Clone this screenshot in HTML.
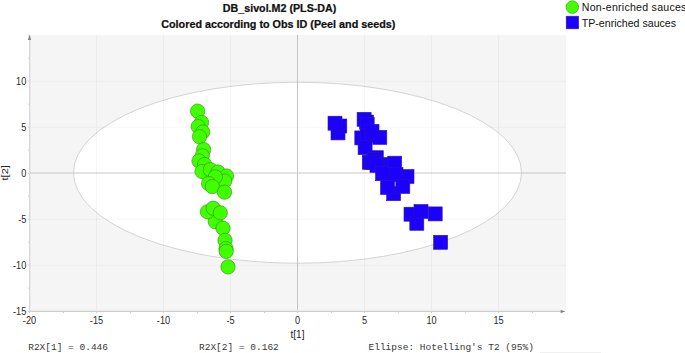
<!DOCTYPE html>
<html><head><meta charset="utf-8"><style>
html,body{margin:0;padding:0;background:#fff;width:685px;height:353px;overflow:hidden}
svg{display:block}
.t{font-family:"Liberation Sans",sans-serif;fill:#222}
.m{font-family:"Liberation Mono",monospace;fill:#383838}
</style></head><body>
<svg width="685" height="353" viewBox="0 0 685 353">
<rect x="0" y="0" width="685" height="353" fill="#fff"/>
<rect x="30" y="35" width="536" height="276" fill="#f5f5f5"/>
<ellipse cx="297.5" cy="172.75" rx="224" ry="90.5" fill="#fff" stroke="#d4d4d4" stroke-width="1"/>

<rect x="96.0" y="35" width="1" height="276" fill="#000" fill-opacity="0.035"/>
<rect x="163.0" y="35" width="1" height="276" fill="#000" fill-opacity="0.035"/>
<rect x="230.0" y="35" width="1" height="276" fill="#000" fill-opacity="0.035"/>
<rect x="364.0" y="35" width="1" height="276" fill="#000" fill-opacity="0.035"/>
<rect x="431.0" y="35" width="1" height="276" fill="#000" fill-opacity="0.035"/>
<rect x="498.0" y="35" width="1" height="276" fill="#000" fill-opacity="0.035"/>
<rect x="30" y="80.7" width="536" height="1" fill="#000" fill-opacity="0.035"/>
<rect x="30" y="126.7" width="536" height="1" fill="#000" fill-opacity="0.035"/>
<rect x="30" y="218.7" width="536" height="1" fill="#000" fill-opacity="0.035"/>
<rect x="30" y="264.7" width="536" height="1" fill="#000" fill-opacity="0.035"/>
<rect x="30" y="35" width="1" height="276" fill="#ebebeb"/>
<rect x="297" y="35" width="1" height="276" fill="#c4c4c4"/>
<rect x="30" y="172.5" width="536" height="1" fill="#c8c8c8"/>
<rect x="30" y="310" width="532" height="1" fill="#ebebeb"/>
<rect x="29" y="38" width="1" height="274" fill="#d8d8d8"/>
<rect x="29" y="311" width="533" height="1" fill="#cdcdcd"/>
<path d="M29.5 34.6 L27.9 40 L31.1 40 Z" fill="#808080"/>
<path d="M565.6 311.5 L560.6 309.9 L560.6 313.1 Z" fill="#808080"/>
<rect x="29" y="312" width="1" height="1" fill="#cfcfcf"/>
<rect x="63" y="312" width="1" height="1" fill="#cfcfcf"/>
<rect x="96" y="312" width="1" height="1" fill="#cfcfcf"/>
<rect x="130" y="312" width="1" height="1" fill="#cfcfcf"/>
<rect x="163" y="312" width="1" height="1" fill="#cfcfcf"/>
<rect x="197" y="312" width="1" height="1" fill="#cfcfcf"/>
<rect x="230" y="312" width="1" height="1" fill="#cfcfcf"/>
<rect x="264" y="312" width="1" height="1" fill="#cfcfcf"/>
<rect x="297" y="312" width="1" height="1" fill="#cfcfcf"/>
<rect x="331" y="312" width="1" height="1" fill="#cfcfcf"/>
<rect x="364" y="312" width="1" height="1" fill="#cfcfcf"/>
<rect x="398" y="312" width="1" height="1" fill="#cfcfcf"/>
<rect x="431" y="312" width="1" height="1" fill="#cfcfcf"/>
<rect x="465" y="312" width="1" height="1" fill="#cfcfcf"/>
<rect x="498" y="312" width="1" height="1" fill="#cfcfcf"/>
<rect x="532" y="312" width="1" height="1" fill="#cfcfcf"/>
<rect x="28" y="310.7" width="1" height="1" fill="#cfcfcf"/>
<rect x="28" y="287.7" width="1" height="1" fill="#cfcfcf"/>
<rect x="28" y="264.7" width="1" height="1" fill="#cfcfcf"/>
<rect x="28" y="241.7" width="1" height="1" fill="#cfcfcf"/>
<rect x="28" y="218.7" width="1" height="1" fill="#cfcfcf"/>
<rect x="28" y="195.7" width="1" height="1" fill="#cfcfcf"/>
<rect x="28" y="172.7" width="1" height="1" fill="#cfcfcf"/>
<rect x="28" y="149.7" width="1" height="1" fill="#cfcfcf"/>
<rect x="28" y="126.7" width="1" height="1" fill="#cfcfcf"/>
<rect x="28" y="103.7" width="1" height="1" fill="#cfcfcf"/>
<rect x="28" y="80.7" width="1" height="1" fill="#cfcfcf"/>
<rect x="28" y="57.7" width="1" height="1" fill="#cfcfcf"/>
<rect x="28" y="34.7" width="1" height="1" fill="#cfcfcf"/>
<text class="t" transform="translate(29.5 323.5) scale(0.92 1)" font-size="10" text-anchor="middle" style="fill:#2a2a2a">-20</text>
<text class="t" transform="translate(96.5 323.5) scale(0.92 1)" font-size="10" text-anchor="middle" style="fill:#2a2a2a">-15</text>
<text class="t" transform="translate(163.5 323.5) scale(0.92 1)" font-size="10" text-anchor="middle" style="fill:#2a2a2a">-10</text>
<text class="t" transform="translate(230.5 323.5) scale(0.92 1)" font-size="10" text-anchor="middle" style="fill:#2a2a2a">-5</text>
<text class="t" transform="translate(297.5 323.5) scale(0.92 1)" font-size="10" text-anchor="middle" style="fill:#2a2a2a">0</text>
<text class="t" transform="translate(364.5 323.5) scale(0.92 1)" font-size="10" text-anchor="middle" style="fill:#2a2a2a">5</text>
<text class="t" transform="translate(431.5 323.5) scale(0.92 1)" font-size="10" text-anchor="middle" style="fill:#2a2a2a">10</text>
<text class="t" transform="translate(498.5 323.5) scale(0.92 1)" font-size="10" text-anchor="middle" style="fill:#2a2a2a">15</text>
<text class="t" transform="translate(26.3 84.8) scale(0.92 1)" font-size="10" text-anchor="end" style="fill:#2a2a2a">10</text>
<text class="t" transform="translate(26.3 130.8) scale(0.92 1)" font-size="10" text-anchor="end" style="fill:#2a2a2a">5</text>
<text class="t" transform="translate(26.3 176.8) scale(0.92 1)" font-size="10" text-anchor="end" style="fill:#2a2a2a">0</text>
<text class="t" transform="translate(26.3 222.8) scale(0.92 1)" font-size="10" text-anchor="end" style="fill:#2a2a2a">-5</text>
<text class="t" transform="translate(26.3 268.8) scale(0.92 1)" font-size="10" text-anchor="end" style="fill:#2a2a2a">-10</text>
<text class="t" transform="translate(26.3 314.8) scale(0.92 1)" font-size="10" text-anchor="end" style="fill:#2a2a2a">-15</text>
<text class="t" x="297.5" y="338" font-size="10" text-anchor="middle">t[1]</text>
<text class="t" transform="translate(7.7 172.8) rotate(-90) scale(1.1 0.9)" x="0" y="0" font-size="10" text-anchor="middle">t[2]</text>
<text class="t" transform="translate(279.6 11.9) scale(0.947 1)" font-size="11.3" font-weight="bold" text-anchor="middle" style="fill:#111;stroke:#111;stroke-width:0.25">DB_sivol.M2 (PLS-DA)</text>
<text class="t" transform="translate(278.3 28.3) scale(0.955 1)" font-size="11.3" font-weight="bold" text-anchor="middle" style="fill:#111;stroke:#111;stroke-width:0.25">Colored according to Obs ID (Peel and seeds)</text>
<text class="m" x="28.2" y="349.8" font-size="9.5">R2X[1] = 0.446</text>
<text class="m" x="199" y="349.8" font-size="9.5">R2X[2] = 0.162</text>
<text class="m" x="368.5" y="349.8" font-size="9.5">Ellipse: Hotelling's T2 (95%)</text>
<rect x="540" y="352" width="61" height="1" fill="#f0f0f0"/>
<circle cx="572.3" cy="7.1" r="6.3" fill="#42ff00" stroke="#2f8c14" stroke-width="0.6"/>
<rect x="566.2" y="16.2" width="12.4" height="12.6" fill="#1c00ff" stroke="#2a1aa0" stroke-width="0.6"/>
<text class="t" x="581.8" y="10.5" font-size="10.6" letter-spacing="0.25" style="fill:#111">Non-enriched sauces</text>
<text class="t" x="581.8" y="26.5" font-size="10.6" style="fill:#111">TP-enriched sauces</text>
<circle cx="197.6" cy="111.1" r="7.15" fill="#42ff00" stroke="#2f8c14" stroke-width="0.6"/>
<circle cx="201.6" cy="122.5" r="7.15" fill="#42ff00" stroke="#2f8c14" stroke-width="0.6"/>
<circle cx="198.2" cy="126.6" r="7.15" fill="#42ff00" stroke="#2f8c14" stroke-width="0.6"/>
<circle cx="202.7" cy="132" r="7.15" fill="#42ff00" stroke="#2f8c14" stroke-width="0.6"/>
<circle cx="199.5" cy="136.7" r="7.15" fill="#42ff00" stroke="#2f8c14" stroke-width="0.6"/>
<circle cx="203.6" cy="149.6" r="7.15" fill="#42ff00" stroke="#2f8c14" stroke-width="0.6"/>
<circle cx="202.3" cy="155.8" r="7.15" fill="#42ff00" stroke="#2f8c14" stroke-width="0.6"/>
<circle cx="199" cy="161" r="7.15" fill="#42ff00" stroke="#2f8c14" stroke-width="0.6"/>
<circle cx="204.6" cy="164.5" r="7.15" fill="#42ff00" stroke="#2f8c14" stroke-width="0.6"/>
<circle cx="202" cy="171.5" r="7.15" fill="#42ff00" stroke="#2f8c14" stroke-width="0.6"/>
<circle cx="210.3" cy="169.7" r="7.15" fill="#42ff00" stroke="#2f8c14" stroke-width="0.6"/>
<circle cx="218" cy="172" r="7.15" fill="#42ff00" stroke="#2f8c14" stroke-width="0.6"/>
<circle cx="226.5" cy="176" r="7.15" fill="#42ff00" stroke="#2f8c14" stroke-width="0.6"/>
<circle cx="224.7" cy="181" r="7.15" fill="#42ff00" stroke="#2f8c14" stroke-width="0.6"/>
<circle cx="215.4" cy="176.9" r="7.15" fill="#42ff00" stroke="#2f8c14" stroke-width="0.6"/>
<circle cx="208.6" cy="183.5" r="7.15" fill="#42ff00" stroke="#2f8c14" stroke-width="0.6"/>
<circle cx="212.3" cy="186.6" r="7.15" fill="#42ff00" stroke="#2f8c14" stroke-width="0.6"/>
<circle cx="224.5" cy="192.2" r="7.15" fill="#42ff00" stroke="#2f8c14" stroke-width="0.6"/>
<circle cx="215.3" cy="221.8" r="7.15" fill="#42ff00" stroke="#2f8c14" stroke-width="0.6"/>
<circle cx="207.4" cy="211.8" r="7.15" fill="#42ff00" stroke="#2f8c14" stroke-width="0.6"/>
<circle cx="213.2" cy="208.2" r="7.15" fill="#42ff00" stroke="#2f8c14" stroke-width="0.6"/>
<circle cx="220.3" cy="212.8" r="7.15" fill="#42ff00" stroke="#2f8c14" stroke-width="0.6"/>
<circle cx="223" cy="228.2" r="7.15" fill="#42ff00" stroke="#2f8c14" stroke-width="0.6"/>
<circle cx="225" cy="240.3" r="7.15" fill="#42ff00" stroke="#2f8c14" stroke-width="0.6"/>
<circle cx="226" cy="248.6" r="7.15" fill="#42ff00" stroke="#2f8c14" stroke-width="0.6"/>
<circle cx="226.2" cy="251.3" r="7.15" fill="#42ff00" stroke="#2f8c14" stroke-width="0.6"/>
<circle cx="228" cy="266.9" r="7.15" fill="#42ff00" stroke="#2f8c14" stroke-width="0.6"/>
<rect x="331.0" y="125.9" width="14.0" height="14.0" fill="#1c00ff" stroke="#2a1aa0" stroke-width="0.6"/>
<rect x="332.8" y="119.0" width="14.0" height="14.0" fill="#1c00ff" stroke="#2a1aa0" stroke-width="0.6"/>
<rect x="328.0" y="116.2" width="14.0" height="14.0" fill="#1c00ff" stroke="#2a1aa0" stroke-width="0.6"/>
<rect x="359.5" y="115.0" width="14.0" height="14.0" fill="#1c00ff" stroke="#2a1aa0" stroke-width="0.6"/>
<rect x="357.1" y="112.3" width="14.0" height="14.0" fill="#1c00ff" stroke="#2a1aa0" stroke-width="0.6"/>
<rect x="360.2" y="117.5" width="14.0" height="14.0" fill="#1c00ff" stroke="#2a1aa0" stroke-width="0.6"/>
<rect x="354.8" y="130.9" width="14.0" height="14.0" fill="#1c00ff" stroke="#2a1aa0" stroke-width="0.6"/>
<rect x="360.3" y="128.4" width="14.0" height="14.0" fill="#1c00ff" stroke="#2a1aa0" stroke-width="0.6"/>
<rect x="372.8" y="130.4" width="14.0" height="14.0" fill="#1c00ff" stroke="#2a1aa0" stroke-width="0.6"/>
<rect x="365.0" y="124.3" width="14.0" height="14.0" fill="#1c00ff" stroke="#2a1aa0" stroke-width="0.6"/>
<rect x="358.1" y="140.7" width="14.0" height="14.0" fill="#1c00ff" stroke="#2a1aa0" stroke-width="0.6"/>
<rect x="376.5" y="157.5" width="14.0" height="14.0" fill="#1c00ff" stroke="#2a1aa0" stroke-width="0.6"/>
<rect x="369.3" y="150.7" width="14.0" height="14.0" fill="#1c00ff" stroke="#2a1aa0" stroke-width="0.6"/>
<rect x="367.4" y="152.3" width="14.0" height="14.0" fill="#1c00ff" stroke="#2a1aa0" stroke-width="0.6"/>
<rect x="362.3" y="155.3" width="14.0" height="14.0" fill="#1c00ff" stroke="#2a1aa0" stroke-width="0.6"/>
<rect x="365.3" y="155.3" width="14.0" height="14.0" fill="#1c00ff" stroke="#2a1aa0" stroke-width="0.6"/>
<rect x="370.0" y="158.4" width="14.0" height="14.0" fill="#1c00ff" stroke="#2a1aa0" stroke-width="0.6"/>
<rect x="387.7" y="156.2" width="14.0" height="14.0" fill="#1c00ff" stroke="#2a1aa0" stroke-width="0.6"/>
<rect x="400.0" y="169.5" width="14.0" height="14.0" fill="#1c00ff" stroke="#2a1aa0" stroke-width="0.6"/>
<rect x="375.5" y="166.7" width="14.0" height="14.0" fill="#1c00ff" stroke="#2a1aa0" stroke-width="0.6"/>
<rect x="389.0" y="167.5" width="14.0" height="14.0" fill="#1c00ff" stroke="#2a1aa0" stroke-width="0.6"/>
<rect x="386.6" y="186.7" width="14.0" height="14.0" fill="#1c00ff" stroke="#2a1aa0" stroke-width="0.6"/>
<rect x="380.5" y="180.5" width="14.0" height="14.0" fill="#1c00ff" stroke="#2a1aa0" stroke-width="0.6"/>
<rect x="395.8" y="179.5" width="14.0" height="14.0" fill="#1c00ff" stroke="#2a1aa0" stroke-width="0.6"/>
<rect x="404.0" y="207.2" width="14.0" height="14.0" fill="#1c00ff" stroke="#2a1aa0" stroke-width="0.6"/>
<rect x="409.8" y="216.3" width="14.0" height="14.0" fill="#1c00ff" stroke="#2a1aa0" stroke-width="0.6"/>
<rect x="414.0" y="204.5" width="14.0" height="14.0" fill="#1c00ff" stroke="#2a1aa0" stroke-width="0.6"/>
<rect x="428.2" y="206.9" width="14.0" height="14.0" fill="#1c00ff" stroke="#2a1aa0" stroke-width="0.6"/>
<rect x="433.6" y="235.3" width="14.0" height="14.0" fill="#1c00ff" stroke="#2a1aa0" stroke-width="0.6"/>
</svg></body></html>
